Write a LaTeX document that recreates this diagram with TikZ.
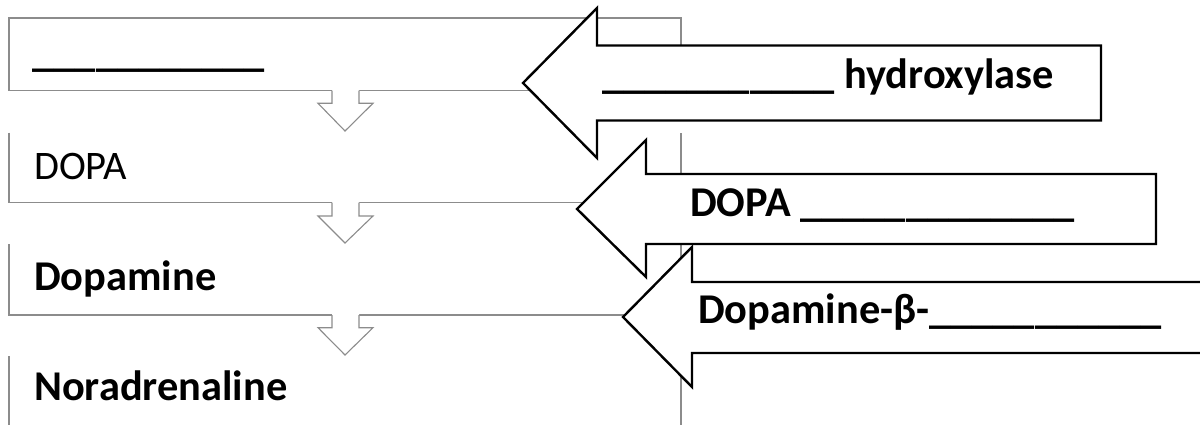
\documentclass[tikz,border=0pt]{standalone}
\usepackage{fontspec}
\setmainfont{Carlito}
\definecolor{boxgray}{RGB}{140,140,140}
\begin{document}
\begin{tikzpicture}[x=1pt,y=-1pt,
  boxline/.style={draw=boxgray,line width=1.3pt},
  downarrow/.style={draw=boxgray,line width=1.1pt,line join=miter},
  bigarrow/.style={draw=black,fill=white,line width=2.4pt,line join=miter},
  lbl/.style={anchor=base west,inner sep=0pt,font=\fontsize{42.4}{48}\selectfont\bfseries},
  lblr/.style={anchor=base west,inner sep=0pt,font=\fontsize{40.5}{48}\selectfont}]
\useasboundingbox (0,0) rectangle (1200,425);
\clip (0,0) rectangle (1200,425);
% gray process boxes
\draw[boxline] (9,18) rectangle (681,90.7);
\draw[boxline] (9,132.7) -- (9,202.7) -- (681,202.7) -- (681,132.7);
\draw[boxline] (9,244) -- (9,315) -- (681,315) -- (681,244);
\draw[boxline] (9,356) -- (9,430);
\draw[boxline] (681,356) -- (681,430);
% down arrows
\foreach \t/\h/\p in {90.7/103.3/131, 202.7/216/243, 315/327.7/355}{
  \fill[white] (332,\t-1.5) -- (332,\h) -- (318,\h) -- (345,\p) -- (373,\h) -- (359,\h) -- (359,\t-1.5) -- cycle;
  \draw[downarrow] (332,\t) -- (332,\h) -- (318,\h) -- (345,\p) -- (373,\h) -- (359,\h) -- (359,\t);
}
% texts in boxes
\node[lbl] (t1) at (32.5,67) {\_\_\_\_\_\_\_\_\_\_\_};
\node[lblr] (t2) at (34,179.3) {DOPA};
\node[lbl] (t3) at (34,290) {Dopamine};
\node[lbl] (t4) at (34,400.7) {Noradrenaline};
% big enzyme arrows
\draw[bigarrow] (523,83) -- (597,8) -- (597,45.5) -- (1101,45.5) -- (1101,120.5) -- (597,120.5) -- (597,158) -- cycle;
\node[lbl] (e1) at (602,89) {\_\_\_\_\_\_\_\_\_\_\_ hydroxylase};
\draw[bigarrow] (577,209) -- (646,140) -- (646,174) -- (1156,174) -- (1156,244) -- (646,244) -- (646,277) -- cycle;
\node[lbl] (e2) at (690,216.7) {DOPA \_\_\_\_\_\_\_\_\_\_\_\_\_};
\draw[bigarrow] (623,317) -- (692,247) -- (692,282) -- (1240,282) -- (1240,353) -- (692,353) -- (692,387) -- cycle;
\node[lbl] (e3) at (698,323) {Dopamine-β-\_\_\_\_\_\_\_\_\_\_\_};
\end{tikzpicture}
\end{document}
